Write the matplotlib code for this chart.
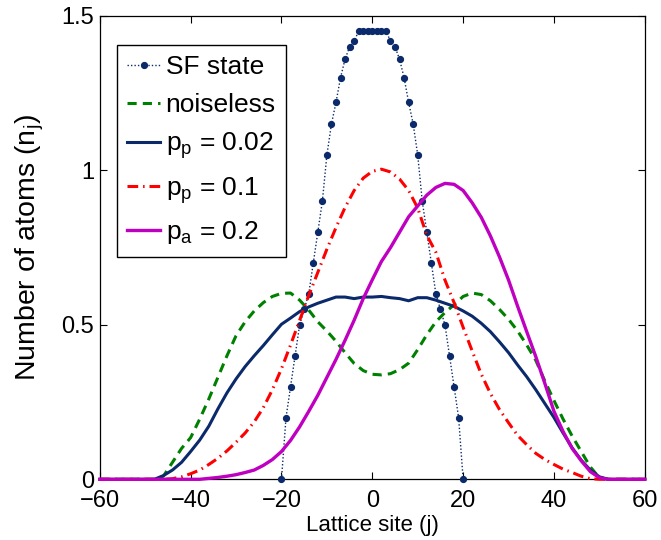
import numpy as np
import matplotlib
matplotlib.use('Agg')
import matplotlib.pyplot as plt

plt.rcParams['font.family'] = ['Liberation Sans', 'DejaVu Sans']
plt.rcParams['mathtext.fontset'] = 'custom'
plt.rcParams['mathtext.rm'] = 'Liberation Sans'
plt.rcParams['mathtext.it'] = 'Liberation Sans'

# SF state, one value per site from -20 to 20
sf_sites = np.arange(-20, 21)
sf_half = [0.0, 0.20, 0.30, 0.40, 0.50, 0.55, 0.60, 0.70, 0.80, 0.90,
           1.05, 1.15, 1.22, 1.30, 1.36, 1.40, 1.42, 1.45, 1.45, 1.45, 1.45]
sf_state = sf_half + sf_half[-2::-1]

# other curves, every second site from -60 to 60
sites = np.arange(-60, 61, 2)
noiseless = [0, 0, 0, 0, 0, 0,
             0.0, 0.01, 0.055, 0.10, 0.135, 0.195, 0.26, 0.33, 0.40, 0.465,
             0.51, 0.545, 0.572, 0.592, 0.602, 0.603, 0.58, 0.548, 0.51, 0.48,
             0.447, 0.41, 0.375, 0.352, 0.34, 0.338, 0.342, 0.355, 0.376, 0.42,
             0.468, 0.51, 0.54, 0.565, 0.592, 0.603, 0.598, 0.578, 0.55, 0.518,
             0.48, 0.435, 0.385, 0.318, 0.255, 0.195, 0.14, 0.09, 0.04, 0.005,
             0.0, 0, 0, 0, 0]
pp_002 = [0, 0, 0, 0, 0, 0,
          0.0, 0.012, 0.03, 0.055, 0.09, 0.127, 0.172, 0.228, 0.28, 0.325,
          0.365, 0.40, 0.433, 0.468, 0.502, 0.522, 0.543, 0.558, 0.57, 0.58,
          0.59, 0.59, 0.585, 0.59, 0.59, 0.592, 0.588, 0.585, 0.578, 0.588,
          0.588, 0.58, 0.57, 0.56, 0.545, 0.528, 0.505, 0.478, 0.445, 0.41,
          0.37, 0.332, 0.29, 0.245, 0.20, 0.15, 0.102, 0.062, 0.03, 0.008,
          0.0, 0, 0, 0, 0]
pp_01 = [0, 0, 0, 0, 0, 0,
         0.0, 0.0, 0.002, 0.008, 0.018, 0.03, 0.048, 0.068, 0.092, 0.12,
         0.15, 0.186, 0.232, 0.29, 0.358, 0.435, 0.515, 0.595, 0.67, 0.745,
         0.815, 0.88, 0.935, 0.975, 0.997, 1.004, 0.995, 0.972, 0.935, 0.878,
         0.79, 0.735, 0.645, 0.572, 0.492, 0.415, 0.34, 0.278, 0.226, 0.183,
         0.142, 0.112, 0.084, 0.064, 0.048, 0.033, 0.022, 0.01, 0.002, 0.0,
         0.0, 0, 0, 0, 0]
pa_02 = [0, 0, 0, 0, 0, 0,
         0, 0, 0, 0, 0, 0.0, 0.003, 0.006, 0.01, 0.015,
         0.022, 0.03, 0.045, 0.064, 0.09, 0.126, 0.17, 0.22, 0.272, 0.33,
         0.388, 0.45, 0.515, 0.585, 0.646, 0.705, 0.75, 0.80, 0.85, 0.885,
         0.92, 0.945, 0.958, 0.955, 0.935, 0.895, 0.848, 0.788, 0.72, 0.645,
         0.56, 0.478, 0.397, 0.31, 0.22, 0.155, 0.10, 0.06, 0.025, 0.005,
         0.0, 0, 0, 0, 0]

navy = '#0b2a6b'
green = '#008000'
red = '#ff0000'
magenta = '#c000c0'

fig = plt.figure(figsize=(6.61, 5.40), dpi=100)
ax = fig.add_axes([0.151, 0.1124, 0.8245, 0.858])

ax.plot(sf_sites, sf_state, color=navy, linestyle=(0, (1, 1.5)), lw=1.0,
        marker='o', ms=4.2, label='SF state', clip_on=False, zorder=3)
ax.plot(sites, noiseless, color=green, linestyle=(0, (3, 2)), lw=2.2,
        label='noiseless', clip_on=False, zorder=3)
ax.plot(sites, pp_002, color=navy, lw=2.2,
        label=r'p$_\mathregular{p}$ = 0.02', clip_on=False, zorder=3)
ax.plot(sites, pp_01, color=red, linestyle=(0, (3.5, 1.6, 0.5, 1.6)), lw=2.2,
        label=r'p$_\mathregular{p}$ = 0.1', clip_on=False, zorder=3)
ax.plot(sites, pa_02, color=magenta, lw=2.4,
        label=r'p$_\mathregular{a}$ = 0.2', clip_on=False, zorder=3)

ax.set_xlim(-60, 60)
ax.set_ylim(0, 1.5)
ax.set_xticks(np.arange(-60, 61, 20))
ax.set_yticks([0, 0.5, 1, 1.5])
ax.set_yticklabels(['0', '0.5', '1', '1.5'])
ax.tick_params(direction='in', top=True, right=True, labelsize=17,
               length=5, width=0.8)
ax.tick_params(axis='x', pad=8)
ax.tick_params(axis='y', pad=4)
for s in ax.spines.values():
    s.set_linewidth(0.9)

ax.set_xlabel('Lattice site (j)', fontsize=16, labelpad=2)
ax.set_ylabel(r'Number of atoms (n$_\mathregular{j}$)', fontsize=20.5, labelpad=11)

leg = ax.legend(loc='upper left', bbox_to_anchor=(0.032, 0.937),
                borderaxespad=0, fontsize=19, handlelength=1.25,
                handletextpad=0.2, labelspacing=0.52, fancybox=False,
                framealpha=1, edgecolor='black', borderpad=0.38)
leg.get_frame().set_linewidth(1.0)

fig.savefig('out.png', dpi=100)
